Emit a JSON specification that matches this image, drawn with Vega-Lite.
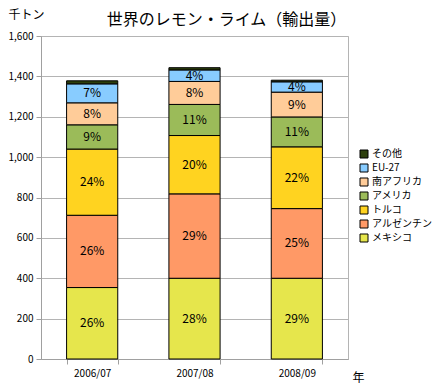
{
  "$schema": "https://vega.github.io/schema/vega-lite/v6.json",
  "width": 307,
  "height": 323,
  "autosize": "none",
  "padding": {"left": 41, "top": 36, "right": 88, "bottom": 31},
  "background": "white",
  "config": {
    "view": {"stroke": "#b4b4b4"},
    "font": "Noto Sans CJK JP"
  },
  "title": {
    "text": "世界のレモン・ライム（輸出量）",
    "fontSize": 16,
    "fontWeight": "normal",
    "font": "Noto Sans CJK JP",
    "anchor": "middle",
    "dx": 32,
    "offset": -20,
    "color": "black"
  },
  "data": {
    "values": [
      {"year": "2006/07", "series": "メキシコ", "value": 354, "label": "26%"},
      {"year": "2006/07", "series": "アルゼンチン", "value": 358, "label": "26%"},
      {"year": "2006/07", "series": "トルコ", "value": 328, "label": "24%"},
      {"year": "2006/07", "series": "アメリカ", "value": 120, "label": "9%"},
      {"year": "2006/07", "series": "南アフリカ", "value": 109, "label": "8%"},
      {"year": "2006/07", "series": "EU-27", "value": 94, "label": "7%"},
      {"year": "2006/07", "series": "その他", "value": 15, "label": ""},
      {"year": "2007/08", "series": "メキシコ", "value": 400, "label": "28%"},
      {"year": "2007/08", "series": "アルゼンチン", "value": 418, "label": "29%"},
      {"year": "2007/08", "series": "トルコ", "value": 289, "label": "20%"},
      {"year": "2007/08", "series": "アメリカ", "value": 154, "label": "11%"},
      {"year": "2007/08", "series": "南アフリカ", "value": 114, "label": "8%"},
      {"year": "2007/08", "series": "EU-27", "value": 57, "label": "4%"},
      {"year": "2007/08", "series": "その他", "value": 11, "label": ""},
      {"year": "2008/09", "series": "メキシコ", "value": 400, "label": "29%"},
      {"year": "2008/09", "series": "アルゼンチン", "value": 345, "label": "25%"},
      {"year": "2008/09", "series": "トルコ", "value": 306, "label": "22%"},
      {"year": "2008/09", "series": "アメリカ", "value": 148, "label": "11%"},
      {"year": "2008/09", "series": "南アフリカ", "value": 123, "label": "9%"},
      {"year": "2008/09", "series": "EU-27", "value": 51, "label": "4%"},
      {"year": "2008/09", "series": "その他", "value": 8, "label": ""}
    ]
  },
  "transform": [
    {"calculate": "indexof(['メキシコ','アルゼンチン','トルコ','アメリカ','南アフリカ','EU-27','その他'], datum.series)", "as": "rank"},
    {"stack": "value", "groupby": ["year"], "sort": [{"field": "rank", "order": "ascending"}], "as": ["v0", "v1"]},
    {"calculate": "(datum.v0 + datum.v1) / 2", "as": "mid"}
  ],
  "encoding": {
    "x": {
      "field": "year",
      "type": "nominal",
      "scale": {"paddingInner": 0.5, "paddingOuter": 0.25},
      "axis": {
        "title": "年",
        "titleX": 317,
        "titleY": 18,
        "titleAlign": "center",
        "titleBaseline": "middle",
        "titleFontWeight": "normal",
        "titleFontSize": 12,
        "titleColor": "black",
        "labelAngle": 0,
        "labelFontSize": 10,
        "labelColor": "black",
        "labelPadding": 4,
        "tickBand": "extent",
        "tickSize": 5,
        "tickColor": "#a0a0a0",
        "domainColor": "#a0a0a0",
        "grid": false
      }
    }
  },
  "layer": [
    {
      "mark": {"type": "bar", "stroke": "black", "strokeWidth": 1},
      "encoding": {
        "y": {
          "field": "v0",
          "type": "quantitative",
          "scale": {"domain": [0, 1600], "nice": false},
          "axis": {
            "title": "千トン",
            "titleAngle": 0,
            "titleX": -15,
            "titleY": -22,
            "titleAlign": "center",
            "titleBaseline": "middle",
            "titleFontWeight": "normal",
            "titleFontSize": 12,
            "titleColor": "black",
            "values": [0, 200, 400, 600, 800, 1000, 1200, 1400, 1600],
            "format": ",d",
            "labelFontSize": 10,
            "labelColor": "black",
            "labelPadding": 3,
            "tickSize": 5,
            "tickColor": "#a0a0a0",
            "domainColor": "#a0a0a0",
            "gridColor": "#b4b4b4",
            "grid": true
          }
        },
        "y2": {"field": "v1"},
        "color": {
          "field": "series",
          "type": "nominal",
          "scale": {
            "domain": ["その他", "EU-27", "南アフリカ", "アメリカ", "トルコ", "アルゼンチン", "メキシコ"],
            "range": ["#2d3f0c", "#88ccff", "#ffcc99", "#9bbb59", "#ffd320", "#ff9966", "#e6e64c"]
          },
          "legend": {
            "title": null,
            "orient": "none",
            "legendX": 318,
            "legendY": 113,
            "symbolType": "square",
            "symbolSize": 64,
            "symbolStrokeColor": "black",
            "symbolStrokeWidth": 1,
            "symbolOpacity": 1,
            "labelFontSize": 10,
            "labelColor": "black",
            "rowPadding": 2,
            "labelOffset": 3
          }
        }
      }
    },
    {
      "mark": {"type": "text", "fontSize": 12, "color": "black", "baseline": "middle", "align": "center"},
      "encoding": {
        "y": {"field": "mid", "type": "quantitative"},
        "text": {"field": "label", "type": "nominal"}
      }
    }
  ]
}
